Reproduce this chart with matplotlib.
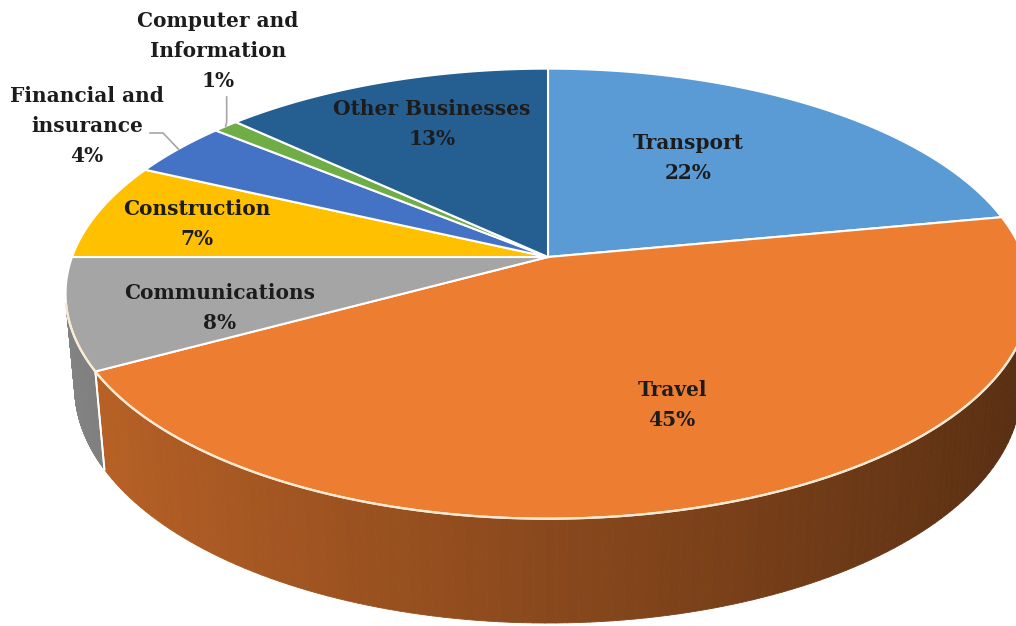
import numpy as np
import matplotlib.pyplot as plt
from matplotlib.patches import Polygon
from matplotlib.collections import PolyCollection

# data
categories = ['Transport', 'Travel', 'Communications', 'Construction',
              'Financial and\ninsurance', 'Computer and\nInformation',
              'Other Businesses']
shares = [22, 45, 8, 7, 4, 1, 13]
colors = ['#5B9BD5', '#ED7D31', '#A5A5A5', '#FFC000',
          '#4472C4', '#70AD47', '#255E91']

# label centres, in pixels
label_xy = [(688, 158), (672, 405), (220, 308), (197, 224),
            (87, 126), (218, 51), (432, 124)]

# view geometry, in pixel units
W, H = 1016, 626
CX, CY = 548, 257
TILT = np.radians(27.4)
DIST = 5.45
FOCAL = 476 * DIST
THICK = 0.223


def project(theta, r=1.0, z=0.0):
    """Perspective projection of a point of the pie onto the picture."""
    X = r * np.cos(theta)
    Y = r * np.sin(theta)
    c, s = np.cos(TILT), np.sin(TILT)
    d = Y * c - z * s + DIST
    return CX + FOCAL * X / d, CY - FOCAL * (Y * s + z * c) / d


def shade(hex_color, factor):
    rgb = np.array([int(hex_color[i:i + 2], 16) for i in (1, 3, 5)]) / 255
    return tuple(np.clip(rgb * factor, 0, 1))


fig = plt.figure(figsize=(W / 100, H / 100), dpi=100)
ax = fig.add_axes([0, 0, 1, 1])
ax.set_xlim(0, W)
ax.set_ylim(H, 0)
ax.axis('off')

frac = np.array(shares) / sum(shares)
bounds = np.radians(90 - 360 * np.concatenate([[0], np.cumsum(frac)]))
mids = (bounds[:-1] + bounds[1:]) / 2

# angles where the wall faces the viewer
lim = np.arcsin(-1 / (DIST * np.cos(TILT)))
vis_lo, vis_hi = -np.pi - lim, lim

# side walls
for i, col in enumerate(colors):
    a0, a1 = bounds[i + 1], bounds[i]
    for off in (0, -2 * np.pi, 2 * np.pi):
        lo, hi = max(a0 + off, vis_lo), min(a1 + off, vis_hi)
        if hi <= lo:
            continue
        t = np.linspace(lo, hi, 120)
        quads, fcs = [], []
        for k in range(len(t) - 1):
            p = [project(t[k]), project(t[k + 1]),
                 project(t[k + 1], z=-THICK), project(t[k], z=-THICK)]
            quads.append(p)
            fcs.append(shade(col, 0.58 - 0.22 * np.cos((t[k] + t[k + 1]) / 2)))
        ax.add_collection(PolyCollection(quads, facecolors=fcs,
                                         edgecolors=fcs, linewidths=0.6,
                                         zorder=1))
        # white seam where a slice boundary meets the wall
        for b in (lo, hi):
            if vis_lo < b < vis_hi:
                xs, ys = zip(project(b), project(b, z=-THICK))
                ax.plot(xs, ys, color='white', lw=1.3, zorder=2)

# top faces
for i, col in enumerate(colors):
    t = np.linspace(bounds[i], bounds[i + 1], 200)
    pts = [(CX, CY)] + [project(a) for a in t]
    ax.add_patch(Polygon(pts, closed=True, facecolor=col,
                         edgecolor='white', lw=1.5, zorder=3))

# light rim along the front edge
t = np.linspace(vis_lo, vis_hi, 300)
rim = np.array([project(a) for a in t])
ax.plot(rim[:, 0], rim[:, 1], color='#FCE9D2', lw=1.6, zorder=4)

font = dict(family='DejaVu Serif', fontweight='bold', fontsize=14.5,
            color='#1c1c1c', ha='center', va='center', linespacing=1.6,
            zorder=6)

for i, name in enumerate(categories):
    x, y = label_xy[i]
    ax.text(x, y, f'{name}\n{shares[i]}%', **font)

# leader lines for the two small slices
ex, ey = project(mids[4])
ax.plot([150, 163, ex], [133, 133, ey], color='#A6A6A6', lw=1.2, zorder=5)
ex, ey = project(mids[5])
ax.plot([ex + 1, ex + 1, ex], [97, ey - 4, ey], color='#A6A6A6', lw=1.2,
        zorder=5)

fig.savefig('out.png', dpi=100)
